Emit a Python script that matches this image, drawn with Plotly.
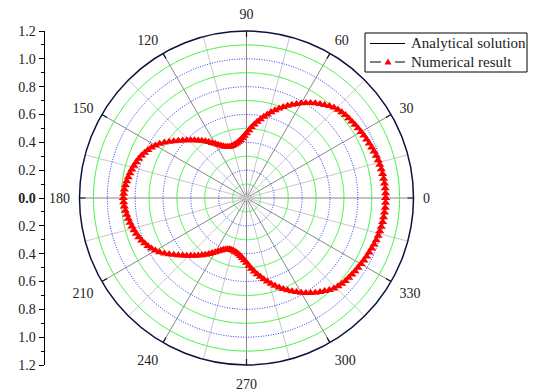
import plotly.graph_objects as go

# Normalised pattern, sampled every 2 degrees from 0 to 180 (upper half)
theta_upper = list(range(0, 181, 2))
r_upper = [
    1.000, 1.000, 0.999, 0.997, 0.995, 0.993, 0.990, 0.987, 0.984, 0.980,
    0.975, 0.970, 0.965, 0.960, 0.955, 0.950, 0.945, 0.940, 0.936, 0.932,
    0.927, 0.921, 0.914, 0.904, 0.890, 0.873, 0.858, 0.841, 0.823, 0.805,
    0.786, 0.766, 0.746, 0.726, 0.705, 0.685, 0.663, 0.641, 0.619, 0.597,
    0.575, 0.553, 0.531, 0.509, 0.487, 0.466, 0.448, 0.432, 0.419, 0.408,
    0.400, 0.394, 0.390, 0.388, 0.388, 0.391, 0.398, 0.408, 0.420, 0.434,
    0.450, 0.467, 0.485, 0.503, 0.521, 0.540, 0.558, 0.577, 0.597, 0.618,
    0.640, 0.663, 0.687, 0.712, 0.736, 0.756, 0.773, 0.788, 0.801, 0.813,
    0.824, 0.833, 0.841, 0.849, 0.856, 0.863, 0.869, 0.875, 0.880, 0.883,
    0.885,
]
# The pattern is symmetric about the 0-180 axis
theta_all = theta_upper + [360 - t for t in theta_upper[-2::-1]]
r_all = r_upper + r_upper[-2::-1]

angle_ticks = list(range(0, 360, 30))
radial_ticks = [-1.2, -1.0, -0.8, -0.6, -0.4, -0.2, 0.0, 0.2, 0.4, 0.6, 0.8, 1.0, 1.2]
radial_ticktext = ["1.2", "1.0", "0.8", "0.6", "0.4", "0.2", "<b>0.0</b>",
                   "0.2", "0.4", "0.6", "0.8", "1.0", "1.2"]
ring_levels = [0.1, 0.2, 0.3, 0.4, 0.5, 0.6, 0.7, 0.8, 0.9, 1.0, 1.1]
legend_labels = ["Analytical solution", "Numerical result"]
R_MAX = 1.2
TICK_R = 1.157  # inner end of the short angular tick marks

W, H = 537, 392
SERIF = "Liberation Serif, Times New Roman, serif"


def px(x):
    return x / W


def py(y):
    return 1 - y / H


fig = go.Figure()

# light minor spokes every 30 degrees, offset by 15
for a in range(15, 360, 30):
    fig.add_trace(go.Scatterpolar(
        r=[0, R_MAX], theta=[a, a], mode="lines",
        line=dict(color="#c8c8c8", width=1),
        showlegend=False, hoverinfo="skip"))

# concentric rings: green solid / blue dotted alternating
ring_theta = [t / 2 for t in range(0, 721)]
for i, lvl in enumerate(ring_levels):
    green = (i % 2 == 0)
    fig.add_trace(go.Scatterpolar(
        r=[lvl] * len(ring_theta), theta=ring_theta, mode="lines",
        line=dict(color="#3cf03c" if green else "#2a2aff", width=1,
                  dash="solid" if green else "1px,1.5px"),
        showlegend=False, hoverinfo="skip"))

# inward tick marks on the outer circle
for a in angle_ticks:
    fig.add_trace(go.Scatterpolar(
        r=[TICK_R, R_MAX], theta=[a, a], mode="lines",
        line=dict(color="#111111", width=1.2),
        showlegend=False, hoverinfo="skip"))

fig.add_trace(go.Scatterpolar(
    r=r_all, theta=theta_all, mode="lines",
    line=dict(color="black", width=1),
    name=legend_labels[0], showlegend=False))

fig.add_trace(go.Scatterpolar(
    r=r_all, theta=theta_all, mode="lines+markers",
    line=dict(color="black", width=1),
    marker=dict(symbol="triangle-up", size=8, color="red",
                line=dict(width=0)),
    name=legend_labels[1], showlegend=False))

# helper trace so the left radial scale is drawn
fig.add_trace(go.Scatter(x=[0, 1], y=[0, 0], mode="markers",
                         marker=dict(opacity=0), showlegend=False,
                         hoverinfo="skip", xaxis="x", yaxis="y"))

# legend box drawn as shapes + annotations
shapes = [
    dict(type="rect", xref="paper", yref="paper",
         x0=px(365), x1=px(527), y0=py(72), y1=py(33),
         line=dict(color="black", width=1), fillcolor="white"),
    dict(type="line", xref="paper", yref="paper",
         x0=px(370), x1=px(405), y0=py(43.5), y1=py(43.5),
         line=dict(color="black", width=1)),
    dict(type="line", xref="paper", yref="paper",
         x0=px(370), x1=px(381), y0=py(62), y1=py(62),
         line=dict(color="black", width=1)),
    dict(type="line", xref="paper", yref="paper",
         x0=px(395), x1=px(405), y0=py(62), y1=py(62),
         line=dict(color="black", width=1)),
    dict(type="path", xref="paper", yref="paper",
         path=(f"M {px(388)},{py(58.5)} L {px(384.5)},{py(64.5)} "
               f"L {px(391.5)},{py(64.5)} Z"),
         line=dict(color="red", width=0), fillcolor="red"),
]
annotations = [
    dict(text=legend_labels[0], xref="paper", yref="paper",
         x=px(409), y=py(43.5), xanchor="left", yanchor="middle",
         showarrow=False, font=dict(family=SERIF, size=15, color="#222222")),
    dict(text=legend_labels[1], xref="paper", yref="paper",
         x=px(409), y=py(62), xanchor="left", yanchor="middle",
         showarrow=False, font=dict(family=SERIF, size=15, color="#222222")),
]

y_dom = [27 / H, 361 / H]
fig.update_layout(
    width=W, height=H, autosize=False,
    margin=dict(l=0, r=0, t=0, b=0, autoexpand=False),
    paper_bgcolor="white", plot_bgcolor="rgba(0,0,0,0)",
    font=dict(family=SERIF, size=14, color="#222222"),
    showlegend=False,
    shapes=shapes, annotations=annotations,
    polar=dict(
        domain=dict(x=[79.5 / W, 413.5 / W], y=y_dom),
        bgcolor="white",
        radialaxis=dict(range=[0, R_MAX], showgrid=False, showline=False,
                        showticklabels=False, ticks=""),
        angularaxis=dict(rotation=0, direction="counterclockwise",
                         tickmode="array", tickvals=angle_ticks,
                         ticktext=[str(a) for a in angle_ticks],
                         showgrid=True, gridcolor="#888888", gridwidth=1,
                         showline=True, linecolor="#101040", linewidth=1.5,
                         ticks="outside", ticklen=6,
                         tickcolor="rgba(0,0,0,0)",
                         tickfont=dict(family=SERIF, size=14, color="#222222")),
    ),
    xaxis=dict(domain=[44.5 / W, 0.1], range=[0, 1], visible=False,
               automargin=False),
    yaxis=dict(domain=y_dom, anchor="x", side="left", automargin=False,
               range=[-R_MAX, R_MAX], tickmode="array",
               tickvals=radial_ticks, ticktext=radial_ticktext,
               showline=True, linecolor="black", linewidth=1,
               ticks="outside", ticklen=5, tickwidth=1, tickcolor="black",
               showgrid=False, zeroline=False,
               tickfont=dict(family=SERIF, size=14, color="#222222"),
               minor=dict(tickmode="array",
                          tickvals=[-1.1, -0.9, -0.7, -0.5, -0.3, -0.1,
                                    0.1, 0.3, 0.5, 0.7, 0.9, 1.1],
                          ticks="outside", ticklen=3, tickcolor="black",
                          showgrid=False)),
)

fig.write_html("out.html")
